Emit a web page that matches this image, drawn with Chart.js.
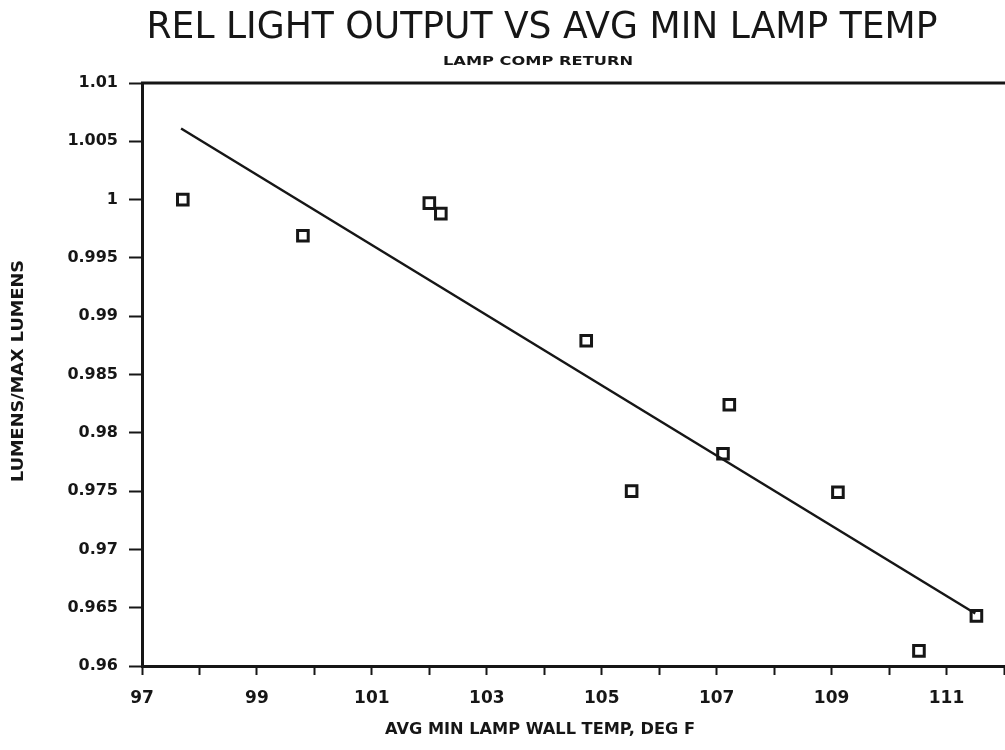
<!DOCTYPE html>
<html>
<head>
<meta charset="utf-8">
<script src="https://cdn.jsdelivr.net/npm/chart.js@4/dist/chart.umd.min.js"></script>
<style>
  html, body { margin: 0; padding: 0; background: #fff; overflow: hidden; }
  #wrap { width: 1005px; height: 750px; }
</style>
</head>
<body>
<div id="wrap"><canvas id="lumenChart" width="1005" height="750"></canvas></div>
<script>
// measured points: wall temp (deg F) vs relative lumens
const wallTemp = [97.71, 99.8, 102.0, 102.2, 104.73, 105.52, 107.22, 107.11, 109.11, 110.52, 111.52];
const relLumens = [1.0, 0.9969, 0.9997, 0.9988, 0.9879, 0.975, 0.9824, 0.9782, 0.9749, 0.9613, 0.9643];

// straight-line fit, drawn end to end
const fitTemp = [97.68, 111.5];
const fitLumens = [1.0061, 0.9645];

const xTickLabels = ["97", "99", "101", "103", "105", "107", "109", "111"];
const yTickLabels = ["0.96", "0.965", "0.97", "0.975", "0.98", "0.985", "0.99", "0.995", "1", "1.005", "1.01"];

const ink = "#161616";

// draw a line of text squeezed/stretched to a given width
function fitText(ctx, text, x, y, font, width, angle) {
  ctx.save();
  ctx.font = font;
  const w = ctx.measureText(text).width;
  ctx.translate(x, y);
  if (angle) ctx.rotate(angle);
  ctx.scale(width / w, 1);
  ctx.textAlign = "center";
  ctx.textBaseline = "middle";
  ctx.fillStyle = ink;
  ctx.fillText(text, 0, 0);
  ctx.restore();
}

const labelsPlugin = {
  id: "plotLabels",
  afterDraw(chart) {
    const ctx = chart.ctx;
    const area = chart.chartArea;

    // heavy frame line along the top
    ctx.save();
    ctx.strokeStyle = ink;
    ctx.lineWidth = 3;
    ctx.beginPath();
    ctx.moveTo(area.left - 1, area.top);
    ctx.lineTo(chart.width, area.top);
    ctx.stroke();
    ctx.restore();

    fitText(ctx, "REL LIGHT OUTPUT VS AVG MIN LAMP TEMP", 542, 28,
      'normal 37px "DejaVu Sans", sans-serif', 791);
    fitText(ctx, "LAMP COMP RETURN", 538, 62,
      'bold 13px "DejaVu Sans", sans-serif', 190);
    fitText(ctx, "AVG MIN LAMP WALL TEMP, DEG F", 540, 730,
      'bold 16px "DejaVu Sans", sans-serif', 310);
    fitText(ctx, "LUMENS/MAX LUMENS", 19, 371,
      'bold 16px "DejaVu Sans", sans-serif', 222, -Math.PI / 2);
  }
};

const ctx = document.getElementById("lumenChart").getContext("2d");

new Chart(ctx, {
  data: {
    datasets: [
      {
        type: "line",
        data: fitTemp.map((t, i) => ({ x: t, y: fitLumens[i] })),
        borderColor: ink,
        borderWidth: 2.5,
        pointRadius: 0,
        fill: false,
        tension: 0,
      },
      {
        type: "scatter",
        data: wallTemp.map((t, i) => ({ x: t, y: relLumens[i] })),
        pointStyle: "rect",
        pointRadius: 7.5,
        pointHoverRadius: 7.5,
        borderColor: ink,
        borderWidth: 3,
        backgroundColor: "rgba(0,0,0,0)",
      },
    ],
  },
  options: {
    responsive: false,
    animation: false,
    events: [],
    layout: { autoPadding: false, padding: { top: 83, right: 1, left: 0, bottom: 0 } },
    plugins: {
      legend: { display: false },
      tooltip: { enabled: false },
      title: { display: false },
    },
    scales: {
      x: {
        type: "linear",
        min: 97,
        max: 112,
        afterFit(scale) {
          scale.height = 84;
          scale.paddingLeft = 0;
          scale.paddingRight = 0;
        },
        border: { display: true, color: ink, width: 3 },
        grid: { drawOnChartArea: false, drawTicks: true, tickLength: 9, color: ink, tickWidth: 2 },
        ticks: {
          stepSize: 1,
          autoSkip: false,
          maxRotation: 0,
          padding: 13,
          color: ink,
          font: { family: '"DejaVu Sans", sans-serif', size: 17, weight: "bold" },
          callback: (value) => (xTickLabels.includes(String(value)) ? String(value) : ""),
        },
      },
      y: {
        type: "linear",
        min: 0.96,
        max: 1.01,
        afterFit(scale) { scale.width = 142; },
        border: { display: true, color: ink, width: 3 },
        grid: { drawOnChartArea: false, drawTicks: true, tickLength: 13, color: ink, tickWidth: 2 },
        ticks: {
          stepSize: 0.005,
          autoSkip: false,
          padding: 11,
          color: ink,
          font: { family: '"DejaVu Sans", sans-serif', size: 16, weight: "bold" },
          callback: (value, index) => yTickLabels[index],
        },
      },
    },
  },
  plugins: [labelsPlugin],
});
</script>
</body>
</html>
